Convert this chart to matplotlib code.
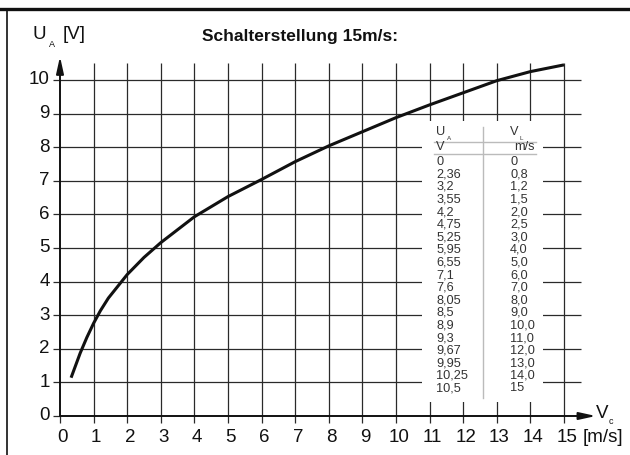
import matplotlib
matplotlib.use("Agg")
import matplotlib.pyplot as plt
from matplotlib.lines import Line2D
from matplotlib.patches import Rectangle

plt.rcParams['font.family'] = ['Liberation Sans', 'DejaVu Sans']

# curve
curve_v = [0.33, 0.6, 0.8, 1.0, 1.2, 1.44, 2.0, 2.5, 3.0, 4.0, 5.0, 6.0, 7.0, 8.0, 9.0,
           10.0, 11.0, 12.0, 13.0, 14.0, 15.0]
curve_u = [1.14, 1.87, 2.34, 2.76, 3.13, 3.51, 4.21, 4.72, 5.16, 5.93, 6.53, 7.04, 7.57, 8.04, 8.46,
           8.88, 9.26, 9.62, 9.98, 10.25, 10.45]

# table in the chart
ua_labels = ["0", "2,36", "3,2", "3,55", "4,2", "4,75", "5,25", "5,95", "6,55", "7,1", "7,6", "8,05",
             "8,5", "8,9", "9,3", "9,67", "9,95", "10,25", "10,5"]
vl_labels = ["0", "0,8", "1,2", "1,5", "2,0", "2,5", "3,0", "4,0", "5,0", "6,0", "7,0", "8,0",
             "9,0", "10,0", "11,0", "12,0", "13,0", "14,0", "15"]
x_ticks = list(range(0, 16))
y_ticks = list(range(0, 11))

fig = plt.figure(figsize=(6.3, 4.55), dpi=100)
ax = fig.add_axes([0, 0, 1, 1])
s = 33.6  # pixels per unit
ax.set_xlim(-60 / s, 570 / s)
ax.set_ylim(-39 / s, 416 / s)
ax.axis('off')

# frame lines (top and left only)
fig.add_artist(Line2D([0, 1], [1 - 9 / 455, 1 - 9 / 455], color='#111', lw=2.4))
fig.add_artist(Line2D([7 / 630, 7 / 630], [0, 1 - 9 / 455], color='#111', lw=1.2))

# grid
gc = '#2a2a2a'
ax.vlines(x_ticks[1:], -0.2, 10.5, color=gc, lw=0.9)
ax.vlines([0], -0.2, 0, color=gc, lw=0.9)
ax.hlines(y_ticks[1:], -0.2, 15.5, color=gc, lw=0.9)
ax.hlines([0], -0.2, 0, color=gc, lw=0.9)

# axes with arrows
arrow = dict(arrowstyle='-|>,head_length=1.0,head_width=0.22', color='#111', lw=1.4,
             shrinkA=0, shrinkB=0)
ax.annotate('', xy=(15.95, 0), xytext=(0, 0), arrowprops=arrow)
ax.annotate('', xy=(0, 10.7), xytext=(0, 0), arrowprops=arrow)

# tick labels
fs = 13.5
for x in x_ticks:
    ax.text(x + 0.08, -0.65, str(x), ha='center', va='center', fontsize=fs, color='#111')
for y in y_ticks:
    ax.text(-0.3, y, str(y), ha='right', va='center', fontsize=fs, color='#111')
ax.text(15.54, -0.65, '[m/s]', ha='left', va='center', fontsize=fs, color='#111')
ax.text(15.96, 0.07, 'V', ha='left', va='center', fontsize=fs, color='#111')
ax.text(16.34, -0.17, 'c', ha='left', va='center', fontsize=6.5, color='#111')

# y label and title
ax.text(-0.82, 11.34, 'U', ha='left', va='center', fontsize=fs, color='#111')
ax.text(-0.24, 11.06, 'A', ha='center', va='center', fontsize=6.5, color='#111')
ax.text(0.07, 11.34, '[V]', ha='left', va='center', fontsize=fs, color='#111')
ax.text(7.14, 11.3, 'Schalterstellung 15m/s:', ha='center', va='center',
        fontsize=12.5, fontweight='bold', color='#111')

# curve
ax.plot(curve_v, curve_u, color='#111', lw=2.2, solid_capstyle='butt',
        solid_joinstyle='round', zorder=3)

# table
ax.add_patch(Rectangle((10.77, 0.42), 14.375 - 10.77, 8.78 - 0.42, facecolor='white',
                       edgecolor='none', zorder=4))
tc = '#333'
tfs = 9.2
c1, c2, c2r = 11.2, 13.4, 14.14
ax.plot([12.58, 12.58], [0.54, 8.6], color='#bbb', lw=1.0, zorder=5)
ax.plot([11.13, 14.17], [8.16, 8.16], color='#bbb', lw=1.0, zorder=5)
ax.plot([11.13, 14.17], [7.80, 7.80], color='#bbb', lw=1.0, zorder=5)
ax.text(c1, 8.45, 'U', ha='left', va='center', fontsize=tfs, color=tc, zorder=6)
ax.text(c1 + 0.33, 8.26, 'A', ha='left', va='center', fontsize=4.5, color=tc, zorder=6)
ax.text(c2, 8.45, 'V', ha='left', va='center', fontsize=tfs, color=tc, zorder=6)
ax.text(c2 + 0.27, 8.26, 'L', ha='left', va='center', fontsize=4.5, color=tc, zorder=6)
ax.text(c1, 8.0, 'V', ha='left', va='center', fontsize=tfs, color=tc, zorder=6)
ax.text(c2r, 8.0, 'm/s', ha='right', va='center', fontsize=tfs, color=tc, zorder=6)
y0, step = 7.57, 12.6 / s
for i, (a, b) in enumerate(zip(ua_labels, vl_labels)):
    ax.text(c1, y0 - i * step, a, ha='left', va='center', fontsize=tfs, color=tc, zorder=6)
    ax.text(c2, y0 - i * step, b, ha='left', va='center', fontsize=tfs, color=tc, zorder=6)

fig.savefig('out.png', dpi=100)
